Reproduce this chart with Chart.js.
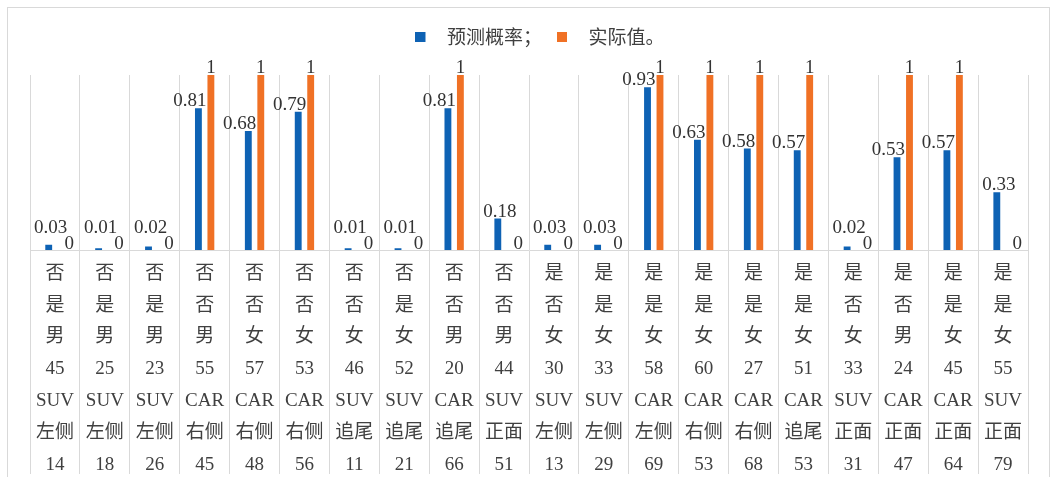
<!DOCTYPE html>
<html>
<head>
<meta charset="utf-8">
<script src="https://cdn.jsdelivr.net/npm/chart.js@4.4.1/dist/chart.umd.min.js"></script>
<style>
  html, body { margin: 0; padding: 0; background: #fff; overflow: hidden; }
  #frame { position: absolute; left: 7px; top: 7px; width: 1041px; height: 500px; border: 1px solid #d9d9d9; }
  #myChart { position: absolute; left: 0; top: 0; }
</style>
</head>
<body>
<div id="frame"></div>
<canvas id="myChart" width="1052" height="477"></canvas>
<script>
// case attributes, one entry per sample (printed as the 7 rows under each column)
const flagA     = ['否','否','否','否','否','否','否','否','否','否','是','是','是','是','是','是','是','是','是','是'];
const flagB     = ['是','是','是','否','否','否','否','是','否','否','否','是','是','是','是','是','否','否','是','是'];
const gender    = ['男','男','男','男','女','女','女','女','男','男','女','女','女','女','女','女','女','男','女','女'];
const age       = ['45','25','23','55','57','53','46','52','20','44','30','33','58','60','27','51','33','24','45','55'];
const carType   = ['SUV','SUV','SUV','CAR','CAR','CAR','SUV','SUV','CAR','SUV','SUV','SUV','CAR','CAR','CAR','CAR','SUV','CAR','CAR','SUV'];
const crashSide = ['左侧','左侧','左侧','右侧','右侧','右侧','追尾','追尾','追尾','正面','左侧','左侧','左侧','右侧','右侧','追尾','正面','正面','正面','正面'];
const speed     = ['14','18','26','45','48','56','11','21','66','51','13','29','69','53','68','53','31','47','64','79'];

// model output and ground truth
const predicted = [0.03,0.01,0.02,0.81,0.68,0.79,0.01,0.01,0.81,0.18,0.03,0.03,0.93,0.63,0.58,0.57,0.02,0.53,0.57,0.33];
const actual    = [0,0,0,1,1,1,0,0,1,0,0,0,1,1,1,1,0,1,1,0];

const seriesNames = ['预测概率；', '实际值。'];
const BLUE = '#0e62b4';
const ORANGE = '#f07125';

const categories = speed.map((s, i) => [flagA[i], flagB[i], gender[i], age[i], carType[i], crashSide[i], s]);

const SERIF = "'Liberation Serif', 'Noto Sans CJK SC', serif";

// small square legend markers, with some empty space to the right of the square
function legendMarker(color) {
  const c = document.createElement('canvas');
  c.width = 22; c.height = 10;
  const g = c.getContext('2d');
  g.fillStyle = color;
  g.fillRect(0, 0, 10, 10);
  return c;
}
const markers = [legendMarker(BLUE), legendMarker(ORANGE)];

// extra room between legend row and the plot, and nudge the row a bit right
const legendGap = {
  id: 'legendGap',
  beforeInit(chart) {
    const fit = chart.legend.fit;
    chart.legend.fit = function () {
      fit.call(this);
      this.height += 18.5;
      if (this.lineWidths && this.lineWidths.length) this.lineWidths[0] -= 22;
    };
  }
};

// value labels over the bars
const valueLabels = {
  id: 'valueLabels',
  afterDatasetsDraw(chart) {
    const ctx = chart.ctx;
    const base = chart.scales.y.getPixelForValue(0);
    const blue = chart.getDatasetMeta(0).data;
    const orange = chart.getDatasetMeta(1).data;
    ctx.save();
    ctx.font = '19px ' + SERIF;
    ctx.fillStyle = '#333333';
    ctx.textBaseline = 'alphabetic';

    blue.forEach((bar, i) => {
      const txt = String(predicted[i]);
      if (actual[i] > 0) {
        // tucked against the orange bar
        const o = orange[i];
        ctx.textAlign = 'right';
        ctx.fillText(txt, o.x - o.width / 2 - 1, bar.y - 2);
      } else {
        ctx.textAlign = 'center';
        ctx.fillText(txt, bar.x + 2, Math.min(bar.y - 2, base - 17));
      }
    });

    orange.forEach((bar, i) => {
      const txt = String(actual[i]);
      ctx.textAlign = 'center';
      if (actual[i] > 0) {
        ctx.fillText(txt, bar.x, bar.y - 2);
      } else {
        ctx.fillText(txt, bar.x + 8, base - 1);
      }
    });
    ctx.restore();
  }
};

const ctx = document.getElementById('myChart').getContext('2d');
const myChart = new Chart(ctx, {
  type: 'bar',
  data: {
    labels: categories,
    datasets: [
      {
        label: seriesNames[0],
        data: predicted,
        backgroundColor: BLUE,
        categoryPercentage: 0.5,
        barPercentage: 0.55
      },
      {
        label: seriesNames[1],
        data: actual,
        backgroundColor: ORANGE,
        categoryPercentage: 0.5,
        barPercentage: 0.55
      }
    ]
  },
  options: {
    responsive: false,
    devicePixelRatio: 1,
    animation: false,
    layout: {
      padding: { left: 30, right: 24, top: 12.5, bottom: 0 }
    },
    scales: {
      x: {
        offset: true,
        grid: {
          offset: true,
          color: '#d9d9d9',
          lineWidth: 1,
          drawTicks: true,
          tickLength: 224,
          tickColor: '#d9d9d9'
        },
        border: { display: true, color: '#d9d9d9', width: 1 },
        ticks: {
          autoSkip: false,
          maxRotation: 0,
          minRotation: 0,
          padding: -216,
          color: '#404040',
          font: { family: SERIF, size: 19, lineHeight: '31.8px' }
        },
        afterFit(axis) {
          axis.height = 227;
        }
      },
      y: {
        display: false,
        min: 0,
        max: 1
      }
    },
    plugins: {
      legend: {
        display: true,
        position: 'top',
        align: 'center',
        labels: {
          usePointStyle: true,
          pointStyleWidth: 22,
          boxHeight: 10,
          padding: 15,
          color: '#404040',
          font: { family: "'Noto Sans CJK SC', sans-serif", size: 19 },
          generateLabels(chart) {
            const items = Chart.defaults.plugins.legend.labels.generateLabels(chart);
            items.forEach((it, i) => { it.pointStyle = markers[i]; });
            return items;
          }
        }
      },
      tooltip: { enabled: false },
      title: { display: false }
    }
  },
  plugins: [legendGap, valueLabels]
});
</script>
</body>
</html>
